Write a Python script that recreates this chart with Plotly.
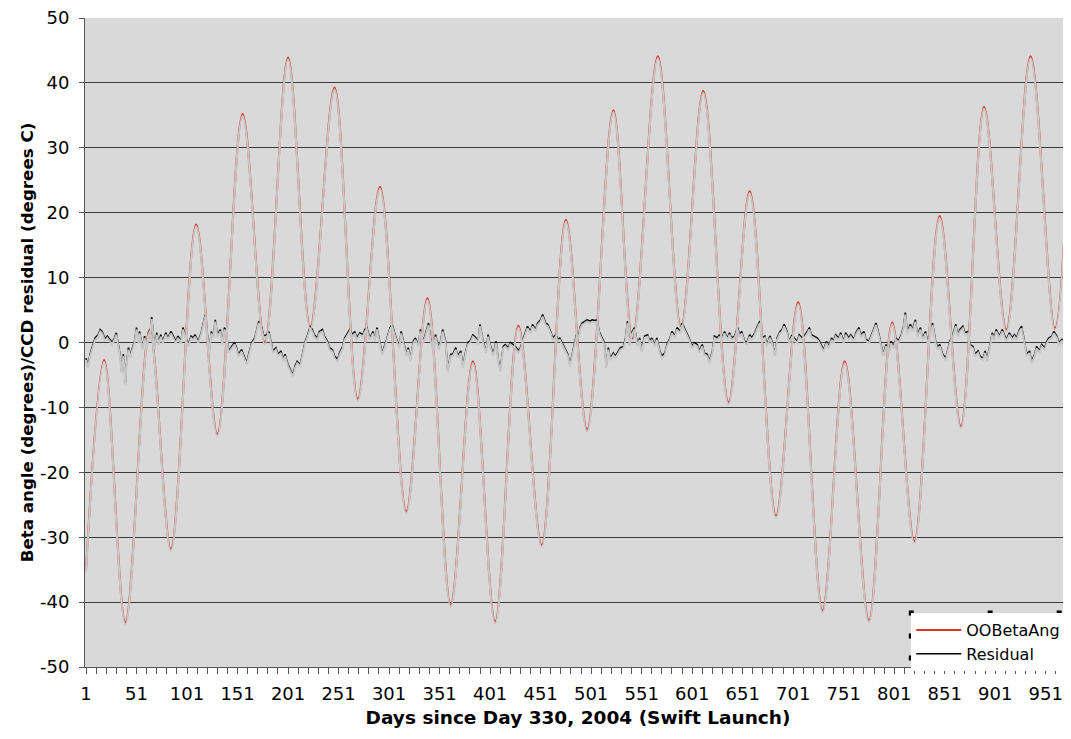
import plotly.graph_objects as go

# OOBetaAng: turning points (day, degrees)
beta_days = [1, 19, 40, 64, 85, 110, 131, 156, 178, 201, 223, 247, 270, 292, 318, 339,
             362, 384, 406, 429, 452, 476, 497, 523, 542, 567, 590, 612, 637, 658, 684,
             706, 730, 752, 776, 799, 821, 846, 867, 890, 912, 936, 960, 975]
beta_vals = [-35, -2.7, -43.1, 2.0, -31.8, 18.2, -14.1, 35.2, 0.0, 43.9, 2.4, 39.3, -8.7,
             24.0, -26.0, 6.8, -40.4, -2.9, -43.0, 2.6, -31.2, 18.9, -13.4, 35.8, 0.6, 44.1,
             2.4, 38.8, -9.2, 23.3, -26.7, 6.2, -41.3, -2.9, -42.8, 3.1, -30.6, 19.5, -12.9,
             36.3, 2.0, 44.1, 2.2, 34.0]

# Residual: values, in four stretches (day, degrees C)
res_days_a = [1, 3, 5, 7, 10, 13, 15, 17, 20, 22, 25, 27, 29, 31, 33, 35, 36, 38, 40, 41,
              43, 45, 46, 49, 51, 53, 54, 57, 59, 61, 63, 64, 66, 68, 69, 71, 73, 75, 77,
              80, 82, 85, 87, 90, 92, 95, 97, 100, 102, 105, 107, 109, 112, 115, 117, 119,
              121, 123, 125, 127, 129, 131, 134, 136, 138, 140, 142, 145, 148, 150, 152,
              155, 158, 160, 162, 165, 168, 170, 172, 175, 177, 180, 182, 184, 186, 189,
              191, 194, 196, 198, 201, 204, 206, 208, 210, 213, 215, 218, 220, 223, 225,
              227, 230, 232, 235, 237, 240, 242, 245, 247]
res_vals_a = [-2.4, -3.6, -1.8, -0.8, 0.7, 1.2, 2.0, 1.7, 0.5, 1.0, 0.5, 0.0, 0.7, 1.5,
              -0.3, -2.1, -4.4, -1.8, -6.2, -3.4, -0.8, -2.1, -1.3, 0.2, 2.3, 0.2, 1.7,
              -0.8, 1.0, -0.8, 1.7, 0.7, 3.9, 1.2, -0.8, 1.5, 0.0, 1.2, 0.2, 1.5, 0.7, 1.7,
              1.0, 0.2, 1.0, 0.2, 2.3, 0.7, -0.3, 1.0, 0.7, 1.2, 0.2, 1.5, 2.8, 4.3, 1.5,
              -1.3, 1.7, 1.0, 3.5, 1.2, 2.0, 0.0, 2.3, 1.7, -1.3, -0.6, 0.0, -0.8, -1.8,
              -1.1, -2.4, -3.1, -1.8, 0.0, 0.7, 2.0, 3.3, 2.3, 1.0, 1.2, 1.7, 0.2, -1.3,
              -0.8, -1.8, -1.3, -2.6, -1.8, -3.4, -4.4, -4.9, -3.6, -2.9, -3.4, -1.8, 0.2,
              1.0, 2.5, 2.0, 1.2, 0.7, 1.7, 2.0, 1.0, 0.2, -0.8, -1.1, -2.1]

res_days_b = [250, 252, 255, 257, 259, 262, 265, 267, 269, 272, 275, 277, 279, 282, 285,
              287, 289, 292, 294, 297, 299, 302, 304, 306, 308, 311, 313, 316, 318, 320,
              322, 325, 327, 330, 332, 335, 337, 340, 342, 345, 347, 350, 352, 354, 357,
              359, 362, 364, 367, 369, 372, 374, 377, 379, 381, 384, 387, 389, 391, 394,
              397, 399, 401, 404, 407, 409, 411, 414, 416, 419, 421, 424, 426, 429, 431,
              434, 436, 438, 441, 443, 446, 448, 451, 453, 456, 458, 461, 463, 466, 468,
              470, 473, 476, 478, 480, 482, 485, 487, 489]
res_vals_b = [-2.6, -1.6, -0.6, 0.7, 1.2, 2.0, 1.2, 1.7, 0.7, 1.5, 1.2, 2.0, 2.3, 0.7, 1.7,
              0.5, 2.3, 0.2, -1.6, -0.3, 0.7, 2.3, 2.8, 1.7, 0.7, -0.6, 1.7, -0.3, -1.8,
              -0.8, -2.6, 0.2, 0.7, -0.3, 2.0, 0.2, 1.2, 3.0, 0.7, -1.1, 1.2, -0.8, 0.2,
              2.0, 0.2, -4.2, -1.8, -1.8, -0.8, -2.1, -1.3, -3.6, -1.3, 0.0, 0.2, 1.2, 0.7,
              0.0, 2.8, 0.2, -1.3, 1.2, -0.3, -1.8, 0.2, -2.6, -4.2, -0.6, -0.3, -0.8, 0.0,
              -0.3, -0.6, -1.3, -0.8, 0.7, 1.7, 2.5, 1.7, 2.8, 2.0, 3.0, 3.5, 4.3, 3.0, 2.8,
              1.7, 0.7, 1.2, 0.5, 0.7, -0.3, -1.1, -1.8, -3.4, -1.8, 0.2, 1.5, 1.2]

res_days_c = [490, 492, 495, 497, 500, 502, 505, 507, 509, 512, 514, 516, 518, 520, 523,
              525, 528, 530, 533, 535, 537, 539, 541, 544, 547, 549, 551, 554, 557, 559,
              561, 564, 566, 569, 571, 574, 576, 579, 581, 584, 586, 589, 591, 594, 596,
              598, 601, 603, 606, 608, 611, 613, 616, 618, 621, 623, 626, 628, 630, 633,
              636, 638, 640, 643, 646, 648, 650, 653, 655, 658, 660, 663, 665, 668, 670,
              673, 675, 678, 680, 683, 685, 688, 690, 692, 695, 697, 700, 702, 705, 707,
              710, 712, 715, 717, 719, 722, 725, 727, 729, 731]
res_vals_c = [2.3, 3.0, 3.3, 3.5, 3.3, 3.5, 3.4, 3.5, 1.7, 0.7, 0.0, -3.6, -0.8, -2.4,
              -1.6, -2.1, -1.3, -0.8, -0.6, 0.7, 3.3, -0.3, 1.5, 2.3, -0.3, 0.7, -1.1, 1.0,
              1.2, 0.2, 0.7, -0.3, 0.7, -1.3, -2.1, -1.6, -0.3, 0.7, 1.7, 1.0, 2.3, 1.7,
              3.0, 2.0, 1.2, 0.7, -0.6, 0.0, -0.3, -1.3, -0.3, -1.6, -1.8, -2.9, -1.3, 1.0,
              0.7, 1.2, 0.5, 1.7, 0.7, 1.5, 0.7, 1.0, 2.3, 1.2, 1.7, 0.2, 0.0, 1.2, 0.7,
              1.5, 2.3, 3.3, 0.7, 1.0, -0.3, 1.0, 0.2, -1.8, 0.7, 1.7, 2.0, 2.8, 1.7, 0.2,
              1.2, 0.7, 0.2, 1.2, 0.7, 1.0, 1.7, 2.3, 1.2, 1.0, 0.7, 0.2, -0.6, -1.1]

res_days_d = [734, 736, 739, 741, 743, 746, 748, 751, 753, 756, 758, 761, 763, 766, 768,
              771, 773, 776, 778, 780, 783, 786, 788, 790, 793, 796, 798, 800, 803, 805,
              808, 810, 812, 814, 817, 819, 822, 824, 827, 829, 832, 834, 836, 839, 842,
              844, 846, 849, 852, 854, 856, 859, 862, 864, 866, 869, 871, 874, 876, 879,
              881, 884, 886, 889, 891, 893, 896, 898, 900, 902, 905, 908, 910, 912, 915,
              918, 920, 922, 925, 927, 930, 932, 935, 937, 940, 942, 945, 947, 950, 952,
              954, 957, 959, 962, 964, 967, 969, 972, 974]
res_vals_d = [0.2, -0.6, 0.7, 0.2, 1.2, 0.7, 1.5, 0.2, 1.5, 0.7, 1.2, 0.5, 1.5, 2.3, 1.2,
              1.7, 0.5, 0.2, 1.0, 1.7, 3.0, 1.2, -0.3, -1.8, -0.3, -1.3, 0.2, -0.6, 0.7,
              0.2, 1.2, 2.3, 4.6, 1.7, 2.8, 2.0, 3.5, 1.2, 2.3, 0.7, 1.7, 0.2, 1.0, 3.0,
              0.2, -0.8, -0.3, -1.8, -2.4, -1.1, 0.2, 1.2, 2.8, 1.2, 2.0, 2.5, 1.5, 1.7,
              -0.3, -0.6, -1.8, -1.3, -2.1, -2.4, -1.3, -2.6, 0.2, 1.5, 0.7, 2.0, 1.0, 2.0,
              1.2, 0.5, 1.5, 0.7, 1.2, 0.7, 2.0, 2.5, 0.2, -1.8, -1.3, -2.9, -1.8, -0.6,
              -1.3, -0.3, -0.8, 0.2, 0.7, 1.0, 1.7, 1.0, 0.0, 0.5, -0.3, 0.2, -0.6]

res_days = res_days_a + res_days_b + res_days_c + res_days_d
res_vals = res_vals_a + res_vals_b + res_vals_c + res_vals_d

x_ticks = list(range(1, 952, 50))
y_ticks = [-50, -40, -30, -20, -10, 0, 10, 20, 30, 40, 50]
y_tick_text = ["-50", "-40", "-30", "-20", "-10", "0", "10", "20", "30", "40", "50"]

RED = "#de3422"
SHADOW = "#c6c6c6"
FONT = "DejaVu Sans"

fig = go.Figure()
# soft drop shadows (same data, drawn on a slightly shifted overlay axis)
fig.add_trace(go.Scatter(x=beta_days, y=beta_vals, mode="lines", yaxis="y2",
                         line=dict(color=SHADOW, width=2, shape="spline", smoothing=1.0),
                         showlegend=False, hoverinfo="skip"))
fig.add_trace(go.Scatter(x=res_days, y=res_vals, mode="lines", yaxis="y2",
                         line=dict(color=SHADOW, width=2), showlegend=False,
                         hoverinfo="skip"))
fig.add_trace(go.Scatter(x=beta_days, y=beta_vals, mode="lines", name="OOBetaAng",
                         line=dict(color=RED, width=2, shape="spline", smoothing=1.0)))
fig.add_trace(go.Scatter(x=res_days, y=res_vals, mode="lines", name="Residual",
                         line=dict(color="#000000", width=1.5)))

# the page body adds an 8px offset, so the figure is smaller and margins shifted
fig.update_layout(
    width=1063, height=723,
    margin=dict(l=77, r=0, t=10, b=64, autoexpand=False),
    paper_bgcolor="white", plot_bgcolor="#d9d9d9",
    font=dict(family=FONT, size=15, color="#000000"),
    xaxis=dict(range=[0, 976], tickmode="array", tickvals=x_ticks, automargin=False,
               ticks="outside", ticklen=6, tickcolor="#555555",
               showline=True, linecolor="#555555", linewidth=1,
               showgrid=False, zeroline=False, ticklabelstandoff=4,
               ticklabeloverflow="allow",
               tickfont=dict(family=FONT, size=18),
               minor=dict(dtick=10, tick0=1, ticks="outside", ticklen=6,
                          tickcolor="#555555", showgrid=False),
               title=dict(text="<b>Days since Day 330, 2004 (Swift Launch)</b>",
                          font=dict(family=FONT, size=18.5), standoff=8)),
    yaxis=dict(range=[-50, 50], tickmode="array", tickvals=y_ticks, ticktext=y_tick_text,
               ticks="outside", ticklen=5, automargin=False,
               tickcolor="#555555", showline=True, linecolor="#555555",
               showgrid=True, gridcolor="#3a3a3a", gridwidth=1,
               zeroline=False, ticklabelstandoff=6, ticklabeloverflow="allow",
               tickfont=dict(family=FONT, size=18),
               title=dict(text="<b>Beta angle (degrees)/CCD residual (degrees C)</b>",
                          font=dict(family=FONT, size=16.7), standoff=2)),
    yaxis2=dict(range=[-49.7, 50.3], overlaying="y", visible=False),
    legend=dict(x=0.838, y=0.0832, xanchor="left", yanchor="top",
                bgcolor="white", borderwidth=0,
                font=dict(family=FONT, size=16), tracegroupgap=0,
                itemwidth=45),
    showlegend=True,
)

# selection handles around the legend box
for hx in (0.838, 0.918, 0.988):
    for hy in (0.0832, 0.0478, 0.0139):
        if hx == 0.918 and hy == 0.0478:
            continue
        fig.add_shape(type="rect", xref="paper", yref="paper",
                      x0=hx - 0.0025, x1=hx + 0.0025, y0=hy - 0.0039, y1=hy + 0.0039,
                      fillcolor="black", line=dict(width=0))

fig.write_html("out.html")
